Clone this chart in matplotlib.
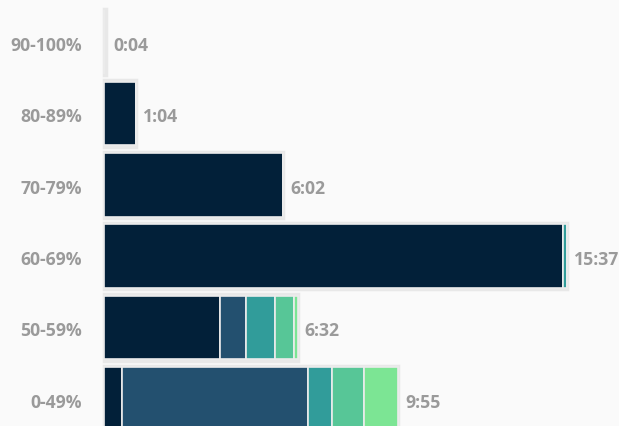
import matplotlib.pyplot as plt

# score buckets (top to bottom) and time spent, in seconds
buckets = ['90-100%', '80-89%', '70-79%', '60-69%', '50-59%', '0-49%']
totals = [4, 64, 362, 937, 392, 595]
seg1 = [0, 64, 362, 929, 235, 36]
seg2 = [0, 0, 0, 0, 53, 376]
seg3 = [0, 0, 0, 8, 57, 49]
seg4 = [0, 0, 0, 0, 39, 65]
seg5 = [0, 0, 0, 0, 8, 69]
segments = [seg1, seg2, seg3, seg4, seg5]
colors = ['#022039', '#23506f', '#319c9a', '#57c697', '#7ce594']


def fmt(s):
    return '%d:%02d' % (s // 60, s % 60)


plt.rcParams['font.family'] = ['Open Sans', 'DejaVu Sans']

fig = plt.figure(figsize=(6.19, 4.27), dpi=100)
fig.patch.set_facecolor('#fafafa')
ax = fig.add_axes([0, 0, 1, 1])
ax.set_facecolor('#fafafa')

ypos = list(range(len(buckets)))
h = 0.93

# light grey frame behind each bar
ax.barh(ypos, totals, height=h, color='#e8e8e8', edgecolor='#e8e8e8',
        linewidth=2.5, zorder=1)

left = [0] * len(buckets)
for vals, c in zip(segments, colors):
    ax.barh(ypos, vals, left=left, height=h * 0.96, color=c,
            edgecolor='#ececec', linewidth=1.2, zorder=2)
    left = [l + v for l, v in zip(left, vals)]

for y, t, lab in zip(ypos, totals, buckets):
    ax.text(t + 14, y + 0.04, fmt(t), va='center', ha='left', fontsize=12.7,
            fontweight='bold', color='#9a9a9a')
    ax.text(-44, y + 0.04, lab, va='center', ha='right', fontsize=12.7,
            fontweight='bold', color='#9a9a9a')

px = 0.4945
ax.set_xlim(-104 / px, (619 - 104) / px)
ax.set_ylim((427 - 43) / 71.4, -43 / 71.4)
ax.axis('off')

fig.savefig('out.png', dpi=100, facecolor=fig.get_facecolor())
